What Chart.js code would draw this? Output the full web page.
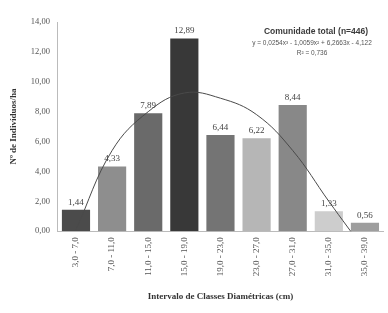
<!DOCTYPE html>
<html>
<head>
<meta charset="utf-8">
<script src="https://cdn.jsdelivr.net/npm/chart.js@4/dist/chart.umd.min.js"></script>
<style>
  html, body { margin: 0; padding: 0; background: #fff; }
  #wrap { width: 388px; height: 313px; position: relative; }
</style>
</head>
<body>
<div id="wrap"><canvas id="grafico"></canvas></div>
<script>
// classes diamétricas e valores (ind/ha)
const classes = ['3,0 - 7,0', '7,0 - 11,0', '11,0 - 15,0', '15,0 - 19,0', '19,0 - 23,0',
                 '23,0 - 27,0', '27,0 - 31,0', '31,0 - 35,0', '35,0 - 39,0'];
const individuos = [1.44, 4.33, 7.89, 12.89, 6.44, 6.22, 8.44, 1.33, 0.56];
// linha de tendência polinomial
const tendencia = [0.1, 5.4, 8.0, 9.25, 8.9, 7.8, 5.4, 2.0, -1.3];
const coresBarras = ['#4b4b4b', '#8e8e8e', '#6a6a6a', '#383838', '#747474',
                     '#b6b6b6', '#888888', '#cdcdcd', '#9e9e9e'];
const ticksY = [0, 2, 4, 6, 8, 10, 12, 14];

const fmt = v => v.toFixed(2).replace('.', ',');
const serif = '"Liberation Serif", "DejaVu Serif", serif';

// rótulos dos valores acima das barras
const rotulos = {
    id: 'rotulos',
    afterDatasetsDraw(chart) {
        const ctx = chart.ctx;
        const meta = chart.getDatasetMeta(1);
        ctx.save();
        ctx.font = '9px ' + serif;
        ctx.fillStyle = '#444';
        ctx.textAlign = 'center';
        ctx.textBaseline = 'bottom';
        meta.data.forEach((bar, i) => {
            ctx.fillText(fmt(individuos[i]), bar.x, bar.y - 3);
        });
        ctx.restore();
    }
};

// título e equação no canto superior direito
const legenda = {
    id: 'legenda',
    afterDraw(chart) {
        const ctx = chart.ctx;
        ctx.save();
        ctx.textAlign = 'center';
        ctx.fillStyle = '#3a3a3a';
        ctx.font = 'bold 8.5px "Liberation Sans", "DejaVu Sans", sans-serif';
        ctx.fillText('Comunidade total (n=446)', 316, 34);
        ctx.font = '6.5px "Liberation Sans", "DejaVu Sans", sans-serif';
        ctx.fillStyle = '#555';
        ctx.fillText('y = 0,0254x³ - 1,0059x² + 6,2663x - 4,122', 312, 45);
        ctx.fillText('R² = 0,736', 312, 55);
        ctx.restore();
    }
};

new Chart(document.getElementById('grafico'), {
    data: {
        labels: classes,
        datasets: [{
            type: 'line',
            data: tendencia,
            borderColor: '#4a4a4a',
            borderWidth: 1,
            pointRadius: 0,
            tension: 0.4,
            fill: false,
            order: 0
        }, {
            type: 'bar',
            data: individuos,
            backgroundColor: coresBarras,
            borderWidth: 0,
            categoryPercentage: 1,
            barPercentage: 0.78,
            order: 1
        }]
    },
    options: {
        responsive: true,
        maintainAspectRatio: false,
        animation: false,
        layout: { padding: { top: 22, right: 5, left: 8, bottom: 11 } },
        plugins: {
            legend: { display: false },
            tooltip: { enabled: false }
        },
        scales: {
            x: {
                grid: { display: false, drawTicks: false },
                border: { color: '#bbb' },
                ticks: {
                    maxRotation: 90, minRotation: 90,
                    padding: 6,
                    color: '#555',
                    font: { family: serif, size: 9 }
                },
                title: {
                    display: true,
                    text: 'Intervalo de Classes Diamétricas (cm)',
                    color: '#333',
                    font: { family: serif, size: 9, weight: 'bold' },
                    padding: { top: 9, bottom: 0 }
                }
            },
            y: {
                min: 0,
                max: 14,
                afterBuildTicks: axis => { axis.ticks = ticksY.map(v => ({ value: v })); },
                grid: { display: false, drawTicks: true, tickLength: 4, tickColor: '#bbb' },
                border: { color: '#bbb' },
                ticks: {
                    padding: 4,
                    color: '#555',
                    font: { family: serif, size: 8.5 },
                    callback: v => fmt(v)
                },
                title: {
                    display: true,
                    text: 'Nº de Indivíduos/ha',
                    color: '#333',
                    font: { family: serif, size: 9, weight: 'bold' },
                    padding: { top: 0, bottom: 8 }
                }
            }
        }
    },
    plugins: [rotulos, legenda]
});
</script>
</body>
</html>
